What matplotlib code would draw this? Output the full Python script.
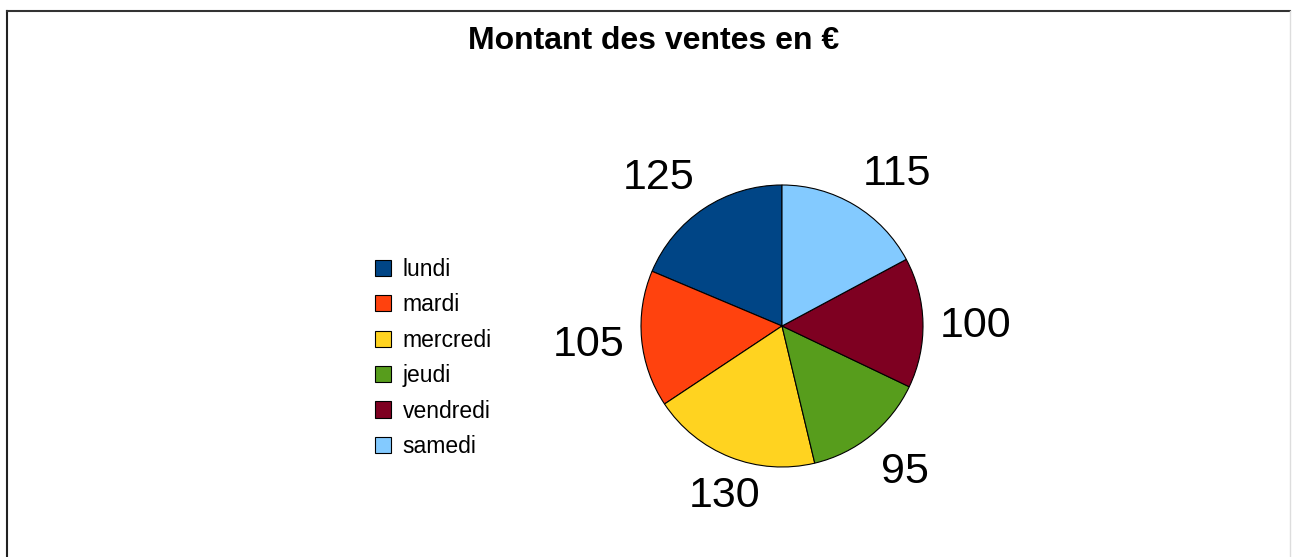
import numpy as np
import matplotlib
matplotlib.use('Agg')
import matplotlib.pyplot as plt
from matplotlib.patches import Patch
from matplotlib.lines import Line2D

plt.rcParams['font.family'] = ['Liberation Sans', 'DejaVu Sans']

# data
jours = ['lundi', 'mardi', 'mercredi', 'jeudi', 'vendredi', 'samedi']
ventes = [125, 105, 130, 95, 100, 115]
couleurs = ['#004586', '#ff420e', '#ffd320', '#579d1c', '#7e0021', '#83caff']
titre = 'Montant des ventes en €'

W, H = 1292, 557
fig = plt.figure(figsize=(W / 100, H / 100), dpi=100)
ax = fig.add_axes([0, 0, 1, 1])

cx, cy, r = 782, H - 326, 141
wedges, _ = ax.pie(ventes, colors=couleurs, startangle=90, counterclock=True,
                   center=(cx, cy), radius=r,
                   wedgeprops=dict(edgecolor='black', linewidth=0.8))
ax.set_xlim(0, W)
ax.set_ylim(0, H)
ax.set_aspect('equal')
ax.axis('off')

# value labels around the pie
for w, v in zip(wedges, ventes):
    ang = np.deg2rad((w.theta1 + w.theta2) / 2)
    c, s = np.cos(ang), np.sin(ang)
    d = r * 1.12
    if abs(c) < 0.4:
        ha = 'center'
    else:
        ha = 'left' if c > 0 else 'right'
    if abs(s) < 0.4:
        va = 'center'
        dy = -4
    elif s > 0:
        va = 'baseline'
        dy = 5
    else:
        va = 'top'
        dy = -3
    ax.text(cx + d * c, cy + d * s + dy, str(v), ha=ha, va=va, fontsize=31)

# title
fig.text(654 / W, 1 - 41 / H, titre, ha='center', va='center',
         fontsize=23, fontweight='bold')

# legend
handles = [Patch(facecolor=col, edgecolor='black', linewidth=0.8) for col in couleurs]
fig.legend(handles, jours, loc='upper left', bbox_to_anchor=(375 / W, 1 - 258 / H),
           frameon=False, fontsize=16.5, handlelength=0.7, handleheight=0.7,
           handletextpad=0.5, labelspacing=0.54, borderpad=0, borderaxespad=0)

# outer frame
fig.add_artist(Line2D([7 / W, 7 / W], [0, 1 - 11 / H], color='#222222', lw=1.5,
                      transform=fig.transFigure))
fig.add_artist(Line2D([7 / W, 1290 / W], [1 - 11 / H, 1 - 11 / H], color='#333333', lw=1.5,
                      transform=fig.transFigure))
fig.add_artist(Line2D([1290 / W, 1290 / W], [0, 1 - 11 / H], color='#dddddd', lw=1,
                      transform=fig.transFigure))

fig.savefig('out.png', dpi=100)
